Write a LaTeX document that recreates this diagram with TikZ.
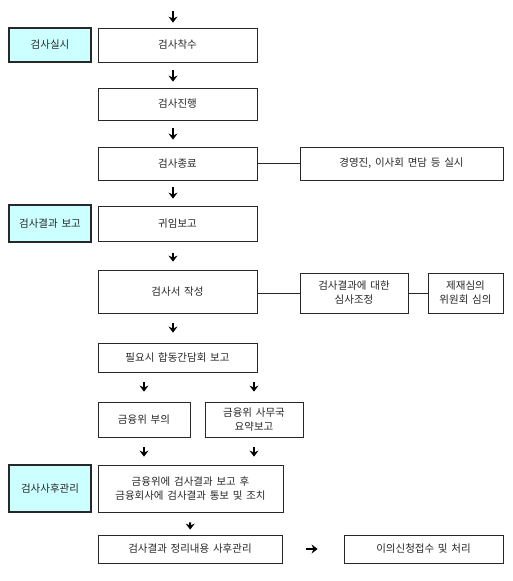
\documentclass[tikz,border=0pt]{standalone}
\usepackage{fontspec}
\setmainfont{Noto Sans CJK KR}[WordSpace=1.6]
\usepackage{tikz}
\usetikzlibrary{arrows.meta, positioning, calc}
\definecolor{stagecyan}{RGB}{204, 255, 255}
\definecolor{boxline}{RGB}{40, 40, 40}

\begin{document}
\begin{tikzpicture}[x=1pt, y=-1pt,
    every node/.style={font=\fontsize{10.5}{14}\selectfont, text=black!85},
    stagebox/.style={draw=boxline, fill=stagecyan, line width=1.6pt, inner sep=0pt},
    flowbox/.style={draw=boxline, line width=0.8pt, inner sep=0pt, align=center},
    arr/.style={-{Stealth[length=6pt, width=9pt]}, line width=2pt, black},
    link/.style={draw=boxline, line width=0.8pt}]
        \useasboundingbox (0,0) rectangle (512,581);

        % Stage labels
        \node[stagebox, minimum width=82pt, minimum height=34pt] (s1) at (50, 45) {검사실시};
        \node[stagebox, minimum width=82pt, minimum height=37pt] (s2) at (50, 223.5) {검사결과 보고};
        \node[stagebox, minimum width=82pt, minimum height=47pt] (s3) at (50, 488.5) {검사사후관리};

        % Main flow
        \coordinate (top) at (173, 9);
        \node[flowbox, minimum width=159pt, minimum height=34pt] (a) at (177.5, 45) {검사착수};
        \node[flowbox, minimum width=159pt, minimum height=32pt] (b) at (177.5, 104) {검사진행};
        \node[flowbox, minimum width=159pt, minimum height=33pt] (c) at (177.5, 163.5) {검사종료};
        \node[flowbox, minimum width=159pt, minimum height=35pt] (d) at (177.5, 223.5) {귀임보고};
        \node[flowbox, minimum width=159pt, minimum height=43pt] (e) at (177.5, 291.5) {검사서 작성};
        \node[flowbox, minimum width=159pt, minimum height=29pt] (f) at (177.5, 357.5) {필요시 합동간담회 보고};
        \node[flowbox, minimum width=92pt, minimum height=35pt] (g1) at (144, 419.5) {금융위 부의};
        \node[flowbox, minimum width=98pt, minimum height=35pt] (g2) at (254, 419.5) {금융위 사무국\\요약보고};
        \node[flowbox, minimum width=185pt, minimum height=47pt] (h) at (190.5, 488.5) {금융위에 검사결과 보고 후\\금융회사에 검사결과 통보 및 조치};
        \node[flowbox, minimum width=184pt, minimum height=28pt] (i) at (190, 549) {검사결과 정리내용 사후관리};

        % Side boxes
        \node[flowbox, minimum width=203pt, minimum height=33pt] (c2) at (401.5, 163.5) {경영진, 이사회 면담 등 실시};
        \node[flowbox, minimum width=108pt, minimum height=40pt] (e2) at (354, 293) {검사결과에 대한\\심사조정};
        \node[flowbox, minimum width=75pt, minimum height=40pt] (e3) at (465.5, 293) {제재심의\\위원회 심의};
        \node[flowbox, minimum width=159pt, minimum height=28pt] (i2) at (423.5, 549) {이의신청접수 및 처리};

        % Arrows
        \draw[arr, shorten <=2pt, shorten >=5pt] (top) -- (top |- a.north);
        \draw[arr, shorten <=8pt, shorten >=6pt] (a.south -| top) -- (b.north -| top);
        \draw[arr, shorten <=8pt, shorten >=7pt] (b.south -| top) -- (c.north -| top);
        \draw[arr, shorten <=7pt, shorten >=7pt] (c.south -| top) -- (d.north -| top);
        \draw[arr, shorten <=12pt, shorten >=8pt] (d.south -| top) -- (e.north -| top);
        \draw[arr, shorten <=10pt, shorten >=10pt] (e.south -| top) -- (f.north -| top);
        \draw[arr, shorten <=10pt, shorten >=10pt] (g1.north |- f.south) -- (g1.north);
        \draw[arr, shorten <=10pt, shorten >=10pt] (g2.north |- f.south) -- (g2.north);
        \draw[arr, shorten <=10pt, shorten >=8pt] (g1.south) -- (g1.south |- h.north);
        \draw[arr, shorten <=10pt, shorten >=8pt] (g2.south) -- (g2.south |- h.north);
        \draw[arr, shorten <=10pt, shorten >=5pt] (h) -- (i);
        \draw[arr, shorten <=24pt, shorten >=26pt] (i) -- (i2);

        % Side links
        \draw[link] (c) -- (c2);
        \draw[link] (e.east |- e2.west) -- (e2);
        \draw[link] (e2) -- (e3);
    \end{tikzpicture}
\end{document}
